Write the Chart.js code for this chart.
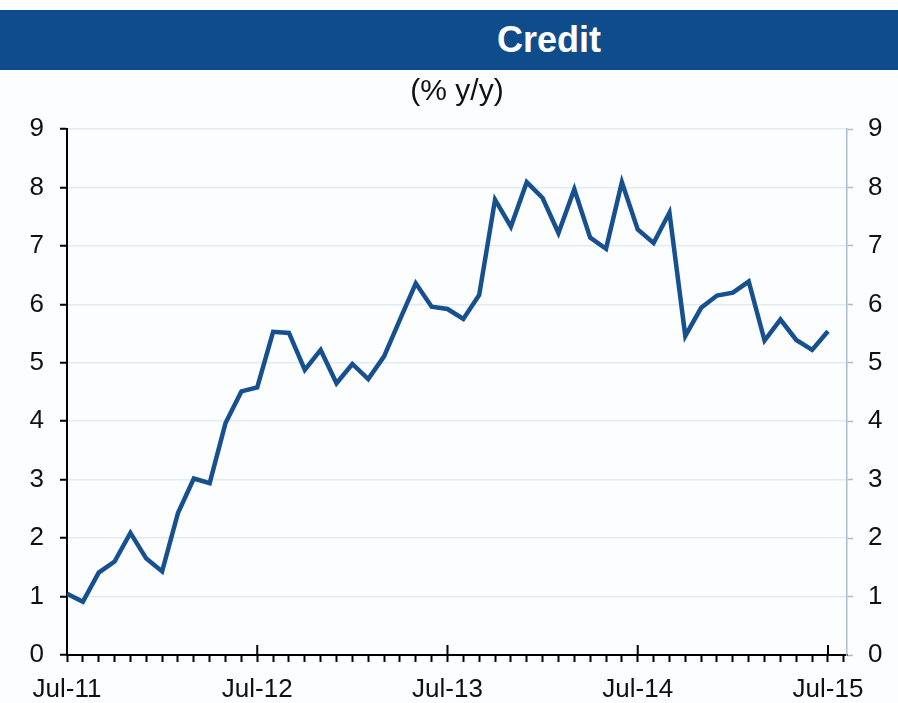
<!DOCTYPE html>
<html>
<head>
<meta charset="utf-8">
<script src="https://cdn.jsdelivr.net/npm/chart.js@4.4.1/dist/chart.umd.min.js"></script>
<style>
  body { margin: 0; width: 898px; height: 703px; overflow: hidden; background: #fcfdfe; font-family: "Liberation Sans", Arial, sans-serif; }
  #bar { position: absolute; left: 0; top: 10px; width: 898px; height: 60px; background: #0f4c8b; }
  #bar div { position: absolute; left: 449px; top: 0; width: 200px; line-height: 60px; text-align: center; color: #fff; font-weight: bold; font-size: 36px; }
  #wrap { position: absolute; left: 0; top: 70px; }
</style>
</head>
<body>
<div id="bar"><div>Credit</div></div>
<div id="wrap"><canvas id="creditChart" width="898" height="633"></canvas></div>
<script>
// monthly, Jul-11 .. Jul-15 (month index 0..48)
var xLabels = ['Jul-11', 'Jul-12', 'Jul-13', 'Jul-14', 'Jul-15'];
var credit = [
    1.05, 0.91, 1.41, 1.60, 2.09, 1.65, 1.43, 2.43, 3.02, 2.94, 3.97, 4.51,
    4.58, 5.53, 5.51, 4.88, 5.22, 4.65, 4.98, 4.72, 5.11, 5.74, 6.36, 5.96,
    5.92, 5.75, 6.16, 7.79, 7.33, 8.09, 7.82, 7.22, 7.97, 7.14, 6.95, 8.09,
    7.28, 7.05, 7.57, 5.46, 5.94, 6.15, 6.20, 6.39, 5.38, 5.74, 5.39, 5.22,
    5.54
];
var yTicks = [0, 1, 2, 3, 4, 5, 6, 7, 8, 9];

var tickFont = { family: 'Liberation Sans', size: 26 };

// upward part of the yearly tick marks
var majorTicks = {
    id: 'majorTicks',
    afterDatasetsDraw: function(chart) {
        var x = chart.scales.x, ctx = chart.ctx, bottom = chart.chartArea.bottom;
        ctx.save();
        ctx.strokeStyle = '#000';
        ctx.lineWidth = 2;
        for (var i = 0; i < xLabels.length; i++) {
            var px = x.getPixelForValue(i * 12);
            ctx.beginPath();
            ctx.moveTo(px, bottom - 10);
            ctx.lineTo(px, bottom);
            ctx.stroke();
        }
        ctx.restore();
    }
};

var ctx = document.getElementById('creditChart').getContext('2d');
var chart = new Chart(ctx, {
    type: 'line',
    data: {
        datasets: [{
            label: 'Credit',
            data: credit.map(function(v, i) { return { x: i, y: v }; }),
            borderColor: '#17508f',
            borderWidth: 4.5,
            borderJoinStyle: 'miter',
            pointRadius: 0,
            tension: 0,
            yAxisID: 'y'
        }]
    },
    options: {
        responsive: false,
        animation: false,
        layout: { padding: 0 },
        plugins: {
            legend: { display: false },
            tooltip: { enabled: false },
            title: {
                display: true,
                text: '(% y/y)',
                fullSize: false,
                color: '#111',
                font: { family: 'Liberation Sans', size: 30, weight: 'normal' },
                lineHeight: 1.2,
                padding: { top: 4, bottom: 19 }
            }
        },
        scales: {
            x: {
                type: 'linear',
                min: 0,
                max: 49.2,
                afterFit: function(s) { s.height = 48; },
                border: { color: '#000', width: 2 },
                grid: { drawOnChartArea: false, tickLength: 7, tickColor: '#000', tickWidth: 2 },
                ticks: {
                    stepSize: 1,
                    autoSkip: false,
                    maxRotation: 0,
                    includeBounds: false,
                    padding: 12,
                    color: '#111',
                    font: tickFont,
                    callback: function(v) { return v % 12 === 0 ? xLabels[v / 12] : ''; }
                }
            },
            y: {
                position: 'left',
                min: 0,
                max: 9,
                afterFit: function(s) { s.width = 67; },
                border: { color: '#000', width: 2 },
                grid: { color: '#e1ebf2', lineWidth: 1.5, tickLength: 7, tickColor: '#000', tickWidth: 2 },
                ticks: { stepSize: 1, padding: 16, color: '#111', font: tickFont, callback: function(v) { return yTicks.indexOf(v) >= 0 ? v : ''; } }
            },
            y2: {
                position: 'right',
                min: 0,
                max: 9,
                afterFit: function(s) { s.width = 51; },
                border: { color: '#a9bdcf', width: 1.5 },
                grid: { drawOnChartArea: false, tickLength: 6, tickColor: '#a9bdcf', tickWidth: 1.5 },
                ticks: { stepSize: 1, padding: 15, color: '#111', font: tickFont, callback: function(v) { return yTicks.indexOf(v) >= 0 ? v : ''; } }
            }
        }
    },
    plugins: [majorTicks]
});
</script>
</body>
</html>
